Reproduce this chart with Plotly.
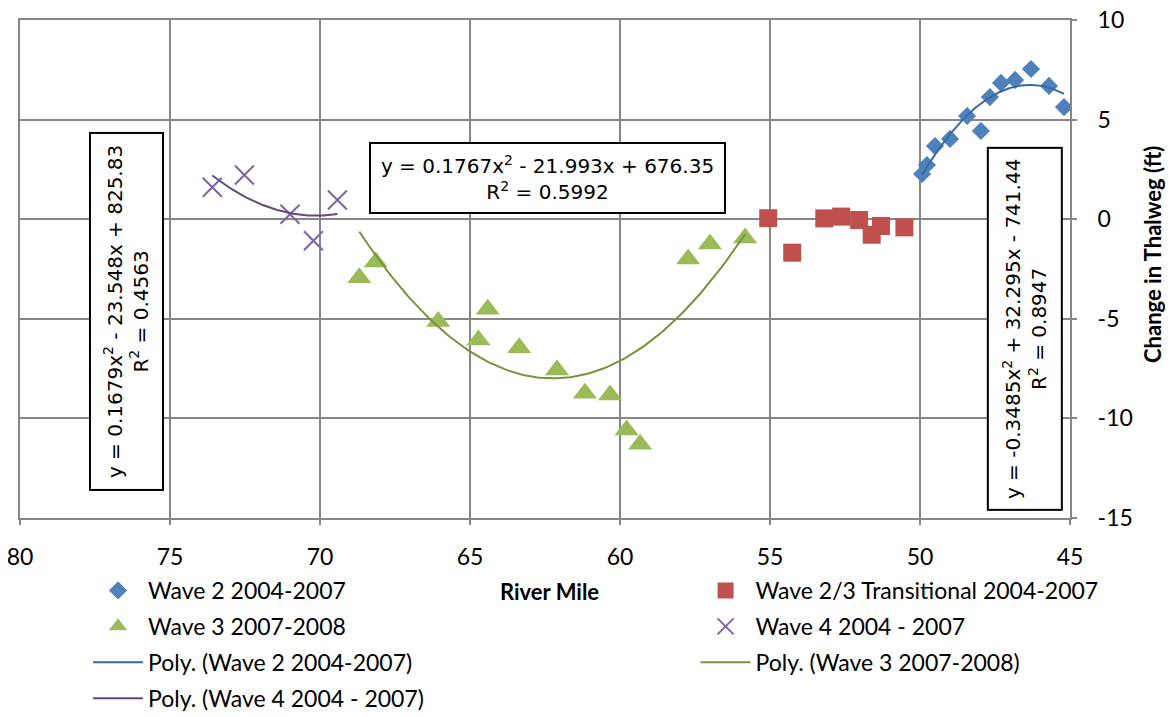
import numpy as np
import plotly.graph_objects as go

# river mile vs change in thalweg (ft)
mile_w2 = [49.93, 49.77, 49.5, 49.0, 48.43, 47.97, 47.67, 47.3, 46.83, 46.3, 45.7, 45.2]
chg_w2 = [2.27, 2.72, 3.67, 4.03, 5.18, 4.43, 6.13, 6.84, 6.99, 7.54, 6.69, 5.63]

mile_w23 = [55.06, 54.26, 53.19, 52.63, 52.03, 51.61, 51.3, 50.52]
chg_w23 = [0.05, -1.68, 0.04, 0.13, -0.04, -0.78, -0.34, -0.41]

mile_w3 = [68.69, 68.14, 66.06, 64.72, 64.41, 63.36, 62.1, 61.17, 60.33, 59.78, 59.33, 57.73, 57.0, 55.83]
chg_w3 = [-2.94, -2.15, -5.14, -6.06, -4.52, -6.45, -7.57, -8.74, -8.83, -10.58, -11.3, -2.0, -1.25, -0.95]

mile_w4 = [73.59, 72.52, 71.0, 70.22, 69.42]
chg_w4 = [1.6, 2.22, 0.25, -1.08, 0.96]

# trendline coefficients as printed on the chart (x^2, x, const)
poly_w2 = [-0.3485, 32.295, -741.44]
poly_w3 = [0.1767, -21.993, 676.35]
poly_w4 = [0.1679, -23.548, 825.83]

eq_w2 = "y = -0.3485x<sup>2</sup> + 32.295x - 741.44<br>R<sup>2</sup> = 0.8947"
eq_w3 = "y = 0.1767x<sup>2</sup> - 21.993x + 676.35<br>R<sup>2</sup> = 0.5992"
eq_w4 = "y = 0.1679x<sup>2</sup> - 23.548x + 825.83<br>R<sup>2</sup> = 0.4563"

y_ticks = [-15, -10, -5, 0, 5, 10]
y_ticktext = ["-15", "-10", "-5", "0", "5", "10"]

FONT = "Lato, Open Sans, sans-serif"
EQFONT = "DejaVu Sans, Open Sans, sans-serif"


def trend(coefs, xs):
    xx = np.linspace(min(xs), max(xs), 120)
    return xx, np.polyval(coefs, xx)


fig = go.Figure()
# left legend column: legend, right column: legend2
fig.add_trace(go.Scatter(x=mile_w2, y=chg_w2, mode="markers", name="Wave 2 2004-2007",
                         legend="legend", legendgroup="a",
                         marker=dict(symbol="diamond", size=14, color="#4F81BD")))
fig.add_trace(go.Scatter(x=mile_w23, y=chg_w23, mode="markers", name="Wave 2/3 Transitional 2004-2007",
                         legend="legend2", legendgroup="b",
                         marker=dict(symbol="square", size=18, color="#C0504D")))
fig.add_trace(go.Scatter(x=mile_w3, y=chg_w3, mode="markers", name="Wave 3 2007-2008",
                         legend="legend", legendgroup="c",
                         marker=dict(symbol="triangle-up", size=21, color="#9BBB59")))
fig.add_trace(go.Scatter(x=mile_w4, y=chg_w4, mode="markers", name="Wave 4 2004 - 2007",
                         legend="legend2", legendgroup="d",
                         marker=dict(symbol="x-thin", size=19, color="#8064A2",
                                     line=dict(width=2, color="#8064A2"))))

tx, ty = trend(poly_w2, mile_w2)
fig.add_trace(go.Scatter(x=tx, y=ty, mode="lines", name="Poly. (Wave 2 2004-2007)",
                         legend="legend", legendgroup="e",
                         line=dict(color="#3A68A0", width=2)))
tx, ty = trend(poly_w3, mile_w3)
fig.add_trace(go.Scatter(x=tx, y=ty, mode="lines", name="Poly. (Wave 3 2007-2008)",
                         legend="legend2", legendgroup="f",
                         line=dict(color="#77933C", width=2)))
tx, ty = trend(poly_w4, mile_w4)
fig.add_trace(go.Scatter(x=tx, y=ty, mode="lines", name="Poly. (Wave 4 2004 - 2007)",
                         legend="legend", legendgroup="g",
                         line=dict(color="#604A7B", width=2)))

box = dict(xref="paper", yref="paper", xanchor="center", yanchor="middle",
           showarrow=False, bgcolor="white", bordercolor="black", borderwidth=2,
           borderpad=8, font=dict(family=EQFONT, size=20, color="black"))
fig.add_annotation(text=eq_w3, x=0.5024, y=0.6827, width=337, height=52, **box)
fig.add_annotation(text=eq_w4, x=0.1014, y=0.4147, width=339, height=55, textangle=-90, **box)
fig.add_annotation(text=eq_w2, x=0.957, y=0.3795, width=344, height=56, textangle=-90, **box)

fig.add_annotation(text="<b>River Mile</b>", xref="paper", yref="paper", x=0.504, y=-0.1466,
                   xanchor="center", yanchor="middle", showarrow=False,
                   font=dict(family=FONT, size=22, color="black"))
fig.add_annotation(text="<b>Change in Thalweg (ft)</b>", xref="paper", yref="paper",
                   x=1.078, y=0.53, xanchor="center", yanchor="middle", textangle=-90,
                   showarrow=False, font=dict(family=FONT, size=22, color="black"))

grid = "#878787"
fig.update_xaxes(range=[80, 45], dtick=5, showgrid=True, gridcolor=grid, gridwidth=2,
                 zeroline=False, showline=True, linecolor=grid, linewidth=2, mirror=True,
                 ticks="outside", ticklen=5, tickcolor=grid, tickwidth=2, automargin=False,
                 ticklabeloverflow="allow", ticklabelstandoff=12,
                 tickfont=dict(family=FONT, size=23, color="black"))
fig.update_yaxes(range=[-15, 10], tickvals=y_ticks, ticktext=y_ticktext, side="right",
                 showgrid=True, gridcolor=grid, gridwidth=2, zeroline=False, showline=True,
                 linecolor=grid, linewidth=2, mirror=True, ticks="outside", ticklen=5,
                 tickcolor=grid, tickwidth=2, automargin=False, ticklabeloverflow="allow",
                 ticklabelstandoff=16, tickfont=dict(family=FONT, size=23, color="black"))

leg = dict(orientation="v", y=-0.1024, xanchor="left", yanchor="top", itemwidth=50,
           tracegroupgap=3, font=dict(family=FONT, size=23, color="black"),
           bgcolor="rgba(0,0,0,0)")
# the page body adds an 8px offset, so the figure is 8px smaller and margins shifted
fig.update_layout(
    width=1165, height=709,
    margin=dict(l=12, r=103, t=12, b=199, autoexpand=False),
    paper_bgcolor="white", plot_bgcolor="white",
    font=dict(family=FONT, size=22, color="black"),
    showlegend=True,
    legend=dict(x=0.0648, **leg),
    legend2=dict(x=0.6434, **leg),
)

fig.write_html("out.html")
